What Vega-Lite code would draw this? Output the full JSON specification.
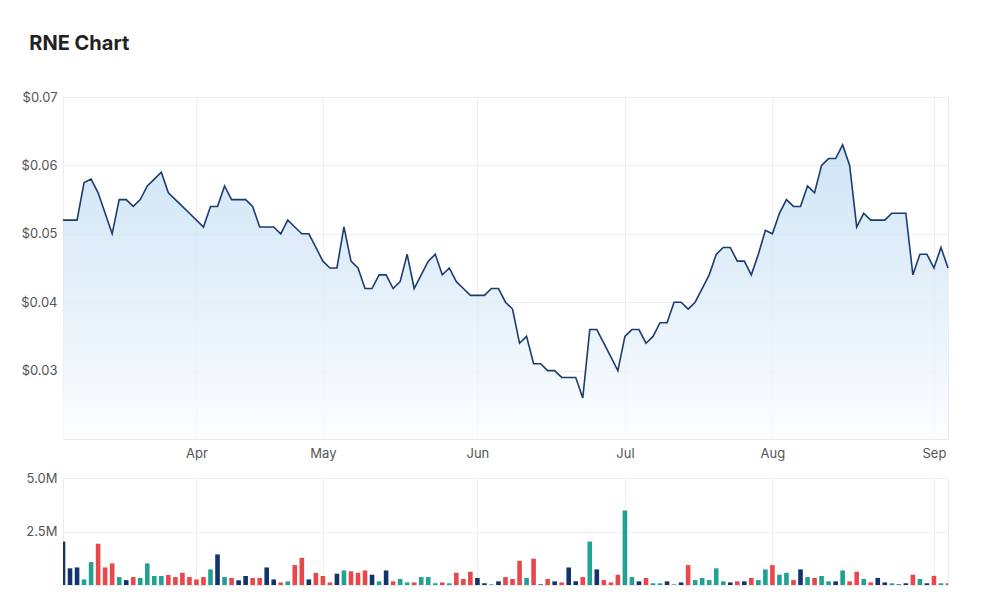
{
  "$schema": "https://vega.github.io/schema/vega-lite/v6.json",
  "background": "white",
  "padding": {"left": 20, "top": 33, "right": 52, "bottom": 10},
  "title": {"text": "RNE Chart", "anchor": "start", "frame": "bounds", "fontSize": 20, "fontWeight": "bold", "color": "#222222", "font": "Inter", "offset": 37, "dx": 9},
  "config": {
    "font": "Inter",
    "view": {"stroke": "#ececec"},
    "axis": {"labelColor": "#555555", "labelFontSize": 13, "labelFont": "Inter", "gridColor": "#efefef", "domain": false, "ticks": false, "title": null}
  },
  "spacing": 10,
  "datasets": {
    "rne": [
      {"date": "2022-03-07", "price": 0.052, "volume": 2030000, "move": "flat"},
      {"date": "2022-03-08", "price": 0.052, "volume": 780000, "move": "flat"},
      {"date": "2022-03-09", "price": 0.052, "volume": 820000, "move": "flat"},
      {"date": "2022-03-10", "price": 0.0575, "volume": 260000, "move": "up"},
      {"date": "2022-03-11", "price": 0.058, "volume": 1070000, "move": "up"},
      {"date": "2022-03-14", "price": 0.056, "volume": 1930000, "move": "down"},
      {"date": "2022-03-15", "price": 0.053, "volume": 820000, "move": "down"},
      {"date": "2022-03-16", "price": 0.050, "volume": 1010000, "move": "down"},
      {"date": "2022-03-17", "price": 0.055, "volume": 370000, "move": "up"},
      {"date": "2022-03-18", "price": 0.055, "volume": 230000, "move": "flat"},
      {"date": "2022-03-21", "price": 0.054, "volume": 370000, "move": "down"},
      {"date": "2022-03-22", "price": 0.055, "volume": 330000, "move": "up"},
      {"date": "2022-03-23", "price": 0.057, "volume": 1010000, "move": "up"},
      {"date": "2022-03-24", "price": 0.058, "volume": 420000, "move": "up"},
      {"date": "2022-03-25", "price": 0.059, "volume": 420000, "move": "up"},
      {"date": "2022-03-28", "price": 0.056, "volume": 470000, "move": "down"},
      {"date": "2022-03-29", "price": 0.055, "volume": 370000, "move": "down"},
      {"date": "2022-03-30", "price": 0.054, "volume": 570000, "move": "down"},
      {"date": "2022-03-31", "price": 0.053, "volume": 370000, "move": "down"},
      {"date": "2022-04-01", "price": 0.052, "volume": 260000, "move": "down"},
      {"date": "2022-04-04", "price": 0.051, "volume": 370000, "move": "down"},
      {"date": "2022-04-05", "price": 0.054, "volume": 730000, "move": "up"},
      {"date": "2022-04-06", "price": 0.054, "volume": 1430000, "move": "flat"},
      {"date": "2022-04-07", "price": 0.057, "volume": 370000, "move": "up"},
      {"date": "2022-04-08", "price": 0.055, "volume": 330000, "move": "down"},
      {"date": "2022-04-11", "price": 0.055, "volume": 220000, "move": "flat"},
      {"date": "2022-04-12", "price": 0.055, "volume": 420000, "move": "flat"},
      {"date": "2022-04-13", "price": 0.054, "volume": 330000, "move": "down"},
      {"date": "2022-04-14", "price": 0.051, "volume": 330000, "move": "down"},
      {"date": "2022-04-19", "price": 0.051, "volume": 820000, "move": "flat"},
      {"date": "2022-04-20", "price": 0.051, "volume": 260000, "move": "flat"},
      {"date": "2022-04-21", "price": 0.050, "volume": 120000, "move": "down"},
      {"date": "2022-04-22", "price": 0.052, "volume": 170000, "move": "up"},
      {"date": "2022-04-26", "price": 0.051, "volume": 930000, "move": "down"},
      {"date": "2022-04-27", "price": 0.050, "volume": 1270000, "move": "down"},
      {"date": "2022-04-28", "price": 0.050, "volume": 260000, "move": "flat"},
      {"date": "2022-04-29", "price": 0.048, "volume": 570000, "move": "down"},
      {"date": "2022-05-02", "price": 0.046, "volume": 420000, "move": "down"},
      {"date": "2022-05-03", "price": 0.045, "volume": 120000, "move": "down"},
      {"date": "2022-05-04", "price": 0.045, "volume": 530000, "move": "flat"},
      {"date": "2022-05-05", "price": 0.051, "volume": 680000, "move": "up"},
      {"date": "2022-05-06", "price": 0.046, "volume": 640000, "move": "down"},
      {"date": "2022-05-09", "price": 0.045, "volume": 570000, "move": "down"},
      {"date": "2022-05-10", "price": 0.042, "volume": 680000, "move": "down"},
      {"date": "2022-05-11", "price": 0.042, "volume": 480000, "move": "flat"},
      {"date": "2022-05-12", "price": 0.044, "volume": 170000, "move": "up"},
      {"date": "2022-05-13", "price": 0.044, "volume": 680000, "move": "flat"},
      {"date": "2022-05-16", "price": 0.042, "volume": 170000, "move": "down"},
      {"date": "2022-05-17", "price": 0.043, "volume": 280000, "move": "up"},
      {"date": "2022-05-18", "price": 0.047, "volume": 120000, "move": "up"},
      {"date": "2022-05-19", "price": 0.042, "volume": 120000, "move": "down"},
      {"date": "2022-05-20", "price": 0.044, "volume": 370000, "move": "up"},
      {"date": "2022-05-23", "price": 0.046, "volume": 370000, "move": "up"},
      {"date": "2022-05-24", "price": 0.047, "volume": 80000, "move": "up"},
      {"date": "2022-05-25", "price": 0.044, "volume": 120000, "move": "down"},
      {"date": "2022-05-26", "price": 0.045, "volume": 80000, "move": "up"},
      {"date": "2022-05-27", "price": 0.043, "volume": 570000, "move": "down"},
      {"date": "2022-05-30", "price": 0.042, "volume": 280000, "move": "down"},
      {"date": "2022-05-31", "price": 0.041, "volume": 620000, "move": "down"},
      {"date": "2022-06-01", "price": 0.041, "volume": 330000, "move": "flat"},
      {"date": "2022-06-02", "price": 0.041, "volume": 80000, "move": "flat"},
      {"date": "2022-06-03", "price": 0.042, "volume": 30000, "move": "up"},
      {"date": "2022-06-06", "price": 0.042, "volume": 170000, "move": "flat"},
      {"date": "2022-06-07", "price": 0.040, "volume": 370000, "move": "down"},
      {"date": "2022-06-08", "price": 0.039, "volume": 280000, "move": "down"},
      {"date": "2022-06-09", "price": 0.034, "volume": 1130000, "move": "down"},
      {"date": "2022-06-10", "price": 0.035, "volume": 330000, "move": "up"},
      {"date": "2022-06-14", "price": 0.031, "volume": 1230000, "move": "down"},
      {"date": "2022-06-15", "price": 0.031, "volume": 30000, "move": "flat"},
      {"date": "2022-06-16", "price": 0.030, "volume": 280000, "move": "down"},
      {"date": "2022-06-17", "price": 0.030, "volume": 170000, "move": "flat"},
      {"date": "2022-06-20", "price": 0.029, "volume": 120000, "move": "down"},
      {"date": "2022-06-21", "price": 0.029, "volume": 820000, "move": "flat"},
      {"date": "2022-06-22", "price": 0.029, "volume": 170000, "move": "flat"},
      {"date": "2022-06-23", "price": 0.026, "volume": 370000, "move": "down"},
      {"date": "2022-06-24", "price": 0.036, "volume": 2030000, "move": "up"},
      {"date": "2022-06-27", "price": 0.036, "volume": 730000, "move": "flat"},
      {"date": "2022-06-28", "price": 0.034, "volume": 230000, "move": "down"},
      {"date": "2022-06-29", "price": 0.032, "volume": 120000, "move": "down"},
      {"date": "2022-06-30", "price": 0.030, "volume": 480000, "move": "down"},
      {"date": "2022-07-01", "price": 0.035, "volume": 3480000, "move": "up"},
      {"date": "2022-07-04", "price": 0.036, "volume": 370000, "move": "up"},
      {"date": "2022-07-05", "price": 0.036, "volume": 170000, "move": "flat"},
      {"date": "2022-07-06", "price": 0.034, "volume": 330000, "move": "down"},
      {"date": "2022-07-07", "price": 0.035, "volume": 80000, "move": "up"},
      {"date": "2022-07-08", "price": 0.037, "volume": 80000, "move": "up"},
      {"date": "2022-07-11", "price": 0.037, "volume": 170000, "move": "flat"},
      {"date": "2022-07-12", "price": 0.040, "volume": 30000, "move": "up"},
      {"date": "2022-07-13", "price": 0.040, "volume": 120000, "move": "flat"},
      {"date": "2022-07-14", "price": 0.039, "volume": 930000, "move": "down"},
      {"date": "2022-07-15", "price": 0.040, "volume": 230000, "move": "up"},
      {"date": "2022-07-18", "price": 0.042, "volume": 330000, "move": "up"},
      {"date": "2022-07-19", "price": 0.044, "volume": 230000, "move": "up"},
      {"date": "2022-07-20", "price": 0.047, "volume": 780000, "move": "up"},
      {"date": "2022-07-21", "price": 0.048, "volume": 170000, "move": "up"},
      {"date": "2022-07-22", "price": 0.048, "volume": 120000, "move": "flat"},
      {"date": "2022-07-25", "price": 0.046, "volume": 170000, "move": "down"},
      {"date": "2022-07-26", "price": 0.046, "volume": 170000, "move": "flat"},
      {"date": "2022-07-27", "price": 0.044, "volume": 330000, "move": "down"},
      {"date": "2022-07-28", "price": 0.047, "volume": 230000, "move": "up"},
      {"date": "2022-07-29", "price": 0.0505, "volume": 730000, "move": "up"},
      {"date": "2022-08-01", "price": 0.050, "volume": 930000, "move": "down"},
      {"date": "2022-08-02", "price": 0.053, "volume": 480000, "move": "up"},
      {"date": "2022-08-03", "price": 0.055, "volume": 570000, "move": "up"},
      {"date": "2022-08-04", "price": 0.054, "volume": 230000, "move": "down"},
      {"date": "2022-08-05", "price": 0.054, "volume": 730000, "move": "flat"},
      {"date": "2022-08-08", "price": 0.057, "volume": 370000, "move": "up"},
      {"date": "2022-08-09", "price": 0.056, "volume": 330000, "move": "down"},
      {"date": "2022-08-10", "price": 0.060, "volume": 420000, "move": "up"},
      {"date": "2022-08-11", "price": 0.061, "volume": 170000, "move": "up"},
      {"date": "2022-08-12", "price": 0.061, "volume": 170000, "move": "flat"},
      {"date": "2022-08-15", "price": 0.063, "volume": 680000, "move": "up"},
      {"date": "2022-08-16", "price": 0.060, "volume": 170000, "move": "down"},
      {"date": "2022-08-17", "price": 0.051, "volume": 620000, "move": "down"},
      {"date": "2022-08-18", "price": 0.053, "volume": 280000, "move": "up"},
      {"date": "2022-08-19", "price": 0.052, "volume": 120000, "move": "down"},
      {"date": "2022-08-22", "price": 0.052, "volume": 330000, "move": "flat"},
      {"date": "2022-08-23", "price": 0.052, "volume": 120000, "move": "flat"},
      {"date": "2022-08-24", "price": 0.053, "volume": 80000, "move": "up"},
      {"date": "2022-08-25", "price": 0.053, "volume": 30000, "move": "flat"},
      {"date": "2022-08-26", "price": 0.053, "volume": 80000, "move": "flat"},
      {"date": "2022-08-29", "price": 0.044, "volume": 480000, "move": "down"},
      {"date": "2022-08-30", "price": 0.047, "volume": 280000, "move": "up"},
      {"date": "2022-08-31", "price": 0.047, "volume": 80000, "move": "flat"},
      {"date": "2022-09-01", "price": 0.045, "volume": 430000, "move": "down"},
      {"date": "2022-09-02", "price": 0.048, "volume": 80000, "move": "up"},
      {"date": "2022-09-05", "price": 0.045, "volume": 80000, "move": "down"}
    ]
  },
  "vconcat": [
    {
      "width": 885,
      "height": 342,
      "data": {"name": "rne"},
      "mark": {
        "type": "area",
        "color": {"gradient": "linear", "x1": 0, "y1": 1, "x2": 0, "y2": 0, "stops": [{"offset": 0, "color": "#fcfdff"}, {"offset": 0.55, "color": "#d6e8f7"}, {"offset": 1, "color": "#bcdaf2"}]},
        "line": {"color": "#1b3c70", "strokeWidth": 1.6}
      },
      "encoding": {
        "x": {
          "field": "date", "type": "ordinal",
          "scale": {"type": "point", "padding": 0},
          "axis": {"values": ["2022-04-01", "2022-05-02", "2022-06-01", "2022-07-01", "2022-08-01", "2022-09-01"], "labelExpr": "utcFormat(toDate(datum.value), '%b')", "labelAngle": 0, "labelPadding": 8, "grid": true}
        },
        "y": {
          "field": "price", "type": "quantitative",
          "scale": {"domain": [0.02, 0.07], "nice": false, "zero": false},
          "axis": {"values": [0.03, 0.04, 0.05, 0.06, 0.07], "format": "$.2f", "labelPadding": 6, "grid": true}
        },
        "y2": {"datum": 0.02}
      }
    },
    {
      "width": 885,
      "height": 107,
      "data": {"name": "rne"},
      "mark": {"type": "bar", "size": 4.6, "clip": true},
      "encoding": {
        "x": {
          "field": "date", "type": "ordinal",
          "scale": {"type": "point", "padding": 0},
          "axis": {"values": ["2022-04-01", "2022-05-02", "2022-06-01", "2022-07-01", "2022-08-01", "2022-09-01"], "labels": false, "grid": true}
        },
        "y": {
          "field": "volume", "type": "quantitative",
          "scale": {"domain": [0, 5000000], "nice": false},
          "axis": {"values": [2500000, 5000000], "format": ".2s", "labelPadding": 6, "grid": true}
        },
        "color": {
          "field": "move", "type": "nominal",
          "scale": {"domain": ["up", "down", "flat"], "range": ["#21a093", "#e8474b", "#12336c"]},
          "legend": null
        }
      }
    }
  ]
}
